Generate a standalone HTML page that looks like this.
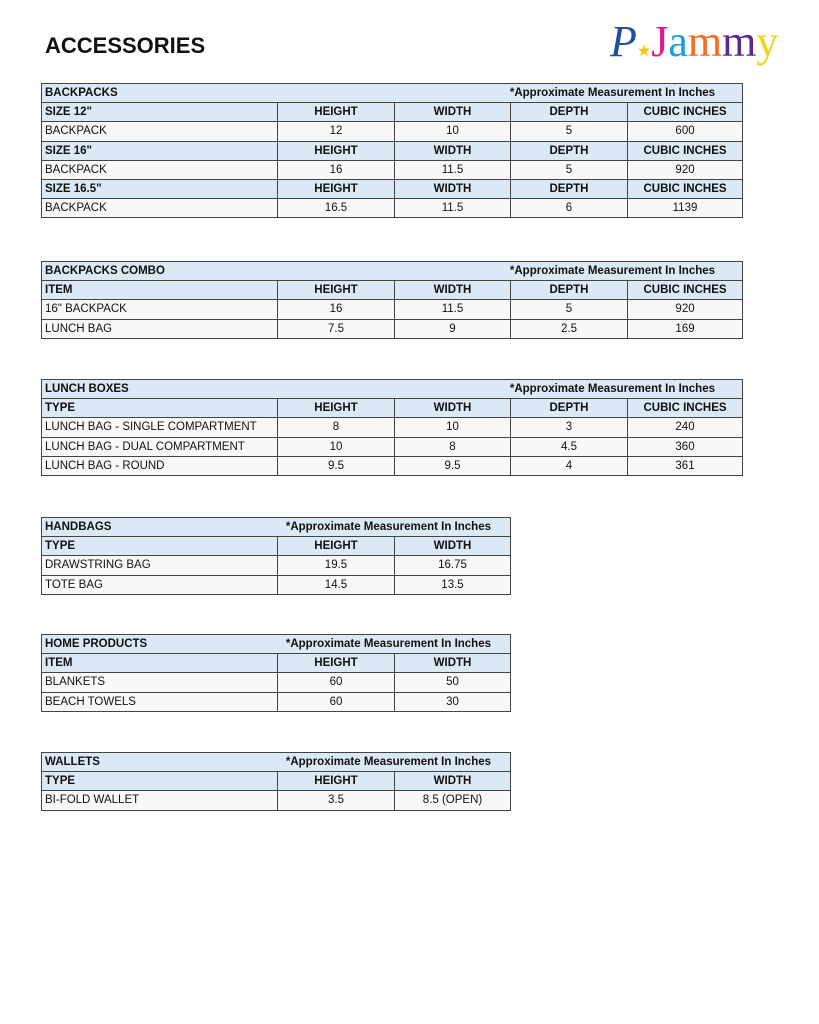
<!DOCTYPE html>
<html><head><meta charset="utf-8"><style>
body{margin:0;width:819px;height:1024px;background:#fff;position:relative;font-family:"Liberation Sans",sans-serif;overflow:hidden}
h1{position:absolute;left:45px;top:33px;margin:0;font-size:22px;font-weight:bold;color:#111;letter-spacing:0}
table{position:absolute;left:41px;border-collapse:collapse;table-layout:fixed;font-size:11.5px;color:#111}
td{border:1.5px solid #444;height:18.2px;padding:0 3px;white-space:nowrap;overflow:visible;background:#f8f8f8;text-align:center}
td:first-child{text-align:left}
tr.h td{background:#dbe8f6;font-weight:bold}
tr.t td{background:#dbe8f6;font-weight:bold;text-align:left;border-left:1.5px solid #444;border-right:1.5px solid #444}
.w{width:701px}.n{width:469px}
.logo{position:absolute;left:610px;top:12px;font-family:"Liberation Serif",serif;font-size:44px;line-height:60px}
</style></head><body>
<h1>ACCESSORIES</h1>
<div class="logo"><span style="color:#1f4e9a;font-style:italic;font-family:'Liberation Serif',serif">P</span><span style="color:#f2c400;font-size:16px">★</span><span style="color:#e4178b">J</span><span style="color:#1aa0d8">a</span><span style="color:#f06d21">m</span><span style="color:#5a2a8a">m</span><span style="color:#f2d21a">y</span></div>

<table class="w" style="top:83px"><colgroup><col style="width:236px"><col style="width:117px"><col style="width:116px"><col style="width:117px"><col style="width:115px"></colgroup>
<tr class="t"><td colspan="5">BACKPACKS<span style="float:right;margin-right:24px">*Approximate Measurement In Inches</span></td></tr>
<tr class="h"><td>SIZE 12"</td><td>HEIGHT</td><td>WIDTH</td><td>DEPTH</td><td>CUBIC INCHES</td></tr>
<tr><td>BACKPACK</td><td>12</td><td>10</td><td>5</td><td>600</td></tr>
<tr class="h"><td>SIZE 16"</td><td>HEIGHT</td><td>WIDTH</td><td>DEPTH</td><td>CUBIC INCHES</td></tr>
<tr><td>BACKPACK</td><td>16</td><td>11.5</td><td>5</td><td>920</td></tr>
<tr class="h"><td>SIZE 16.5"</td><td>HEIGHT</td><td>WIDTH</td><td>DEPTH</td><td>CUBIC INCHES</td></tr>
<tr><td>BACKPACK</td><td>16.5</td><td>11.5</td><td>6</td><td>1139</td></tr>
</table>

<table class="w" style="top:261px"><colgroup><col style="width:236px"><col style="width:117px"><col style="width:116px"><col style="width:117px"><col style="width:115px"></colgroup>
<tr class="t"><td colspan="5">BACKPACKS COMBO<span style="float:right;margin-right:24px">*Approximate Measurement In Inches</span></td></tr>
<tr class="h"><td>ITEM</td><td>HEIGHT</td><td>WIDTH</td><td>DEPTH</td><td>CUBIC INCHES</td></tr>
<tr><td>16" BACKPACK</td><td>16</td><td>11.5</td><td>5</td><td>920</td></tr>
<tr><td>LUNCH BAG</td><td>7.5</td><td>9</td><td>2.5</td><td>169</td></tr>
</table>

<table class="w" style="top:379px"><colgroup><col style="width:236px"><col style="width:117px"><col style="width:116px"><col style="width:117px"><col style="width:115px"></colgroup>
<tr class="t"><td colspan="5">LUNCH BOXES<span style="float:right;margin-right:24px">*Approximate Measurement In Inches</span></td></tr>
<tr class="h"><td>TYPE</td><td>HEIGHT</td><td>WIDTH</td><td>DEPTH</td><td>CUBIC INCHES</td></tr>
<tr><td>LUNCH BAG - SINGLE COMPARTMENT</td><td>8</td><td>10</td><td>3</td><td>240</td></tr>
<tr><td>LUNCH BAG - DUAL COMPARTMENT</td><td>10</td><td>8</td><td>4.5</td><td>360</td></tr>
<tr><td>LUNCH BAG - ROUND</td><td>9.5</td><td>9.5</td><td>4</td><td>361</td></tr>
</table>

<table class="n" style="top:517px"><colgroup><col style="width:236px"><col style="width:117px"><col style="width:116px"></colgroup>
<tr class="t"><td colspan="3">HANDBAGS<span style="float:right;margin-right:16px">*Approximate Measurement In Inches</span></td></tr>
<tr class="h"><td>TYPE</td><td>HEIGHT</td><td>WIDTH</td></tr>
<tr><td>DRAWSTRING BAG</td><td>19.5</td><td>16.75</td></tr>
<tr><td>TOTE BAG</td><td>14.5</td><td>13.5</td></tr>
</table>

<table class="n" style="top:634px"><colgroup><col style="width:236px"><col style="width:117px"><col style="width:116px"></colgroup>
<tr class="t"><td colspan="3">HOME PRODUCTS<span style="float:right;margin-right:16px">*Approximate Measurement In Inches</span></td></tr>
<tr class="h"><td>ITEM</td><td>HEIGHT</td><td>WIDTH</td></tr>
<tr><td>BLANKETS</td><td>60</td><td>50</td></tr>
<tr><td>BEACH TOWELS</td><td>60</td><td>30</td></tr>
</table>

<table class="n" style="top:752px"><colgroup><col style="width:236px"><col style="width:117px"><col style="width:116px"></colgroup>
<tr class="t"><td colspan="3">WALLETS<span style="float:right;margin-right:16px">*Approximate Measurement In Inches</span></td></tr>
<tr class="h"><td>TYPE</td><td>HEIGHT</td><td>WIDTH</td></tr>
<tr><td>BI-FOLD WALLET</td><td>3.5</td><td>8.5 (OPEN)</td></tr>
</table>
</body></html>
